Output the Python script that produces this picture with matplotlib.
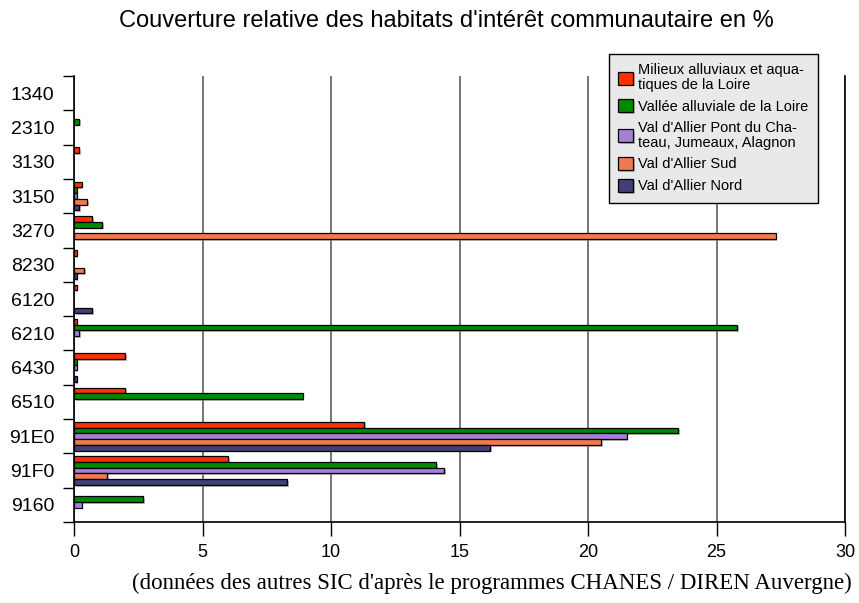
import matplotlib
matplotlib.use("Agg")
import matplotlib.pyplot as plt
import matplotlib.patheffects as pe
import numpy as np

habitats = ["1340", "2310", "3130", "3150", "3270", "8230", "6120",
            "6210", "6430", "6510", "91E0", "91F0", "9160"]

milieux_loire = [0, 0, 0.2, 0.3, 0.7, 0.1, 0.1, 0.1, 2.0, 2.0, 11.3, 6.0, 0]
vallee_loire = [0, 0.2, 0, 0.1, 1.1, 0, 0, 25.8, 0.1, 8.9, 23.5, 14.1, 2.7]
allier_pont = [0, 0, 0, 0.1, 0, 0, 0, 0.2, 0.1, 0, 21.5, 14.4, 0.3]
allier_sud = [0, 0, 0, 0.5, 27.3, 0.4, 0, 0, 0, 0, 20.5, 1.3, 0]
allier_nord = [0, 0, 0, 0.2, 0, 0.1, 0.7, 0, 0.1, 0, 16.2, 8.3, 0]

series = [
    ("Milieux alluviaux et aqua-\ntiques de la Loire", milieux_loire, "#ff3000"),
    ("Vallée alluviale de la Loire", vallee_loire, "#008a00"),
    ("Val d'Allier Pont du Cha-\nteau, Jumeaux, Alagnon", allier_pont, "#a87fd8"),
    ("Val d'Allier Sud", allier_sud, "#ef7a50"),
    ("Val d'Allier Nord", allier_nord, "#414177"),
]

plt.rcParams["font.family"] = ["Liberation Sans", "DejaVu Sans"]

fig = plt.figure(figsize=(8.59, 6.03), dpi=100)
ax = fig.add_axes([74 / 859, 1 - 522 / 603, (845 - 74) / 859, (522 - 76) / 603])

n_cat = len(habitats)
centers = np.arange(n_cat) + 0.5
group = 0.84
bar_h = group / len(series)

shadow = [pe.SimplePatchShadow(offset=(1.2, -1.2), shadow_rgbFace="#909090", alpha=0.6),
          pe.Normal()]

handles = []
for k, (label, values, color) in enumerate(series):
    values = np.asarray(values, dtype=float)
    pos = centers - group / 2 + bar_h * (k + 0.5)
    keep = values > 0
    bars = ax.barh(pos[keep], values[keep], height=bar_h, color=color,
                   edgecolor="black", linewidth=0.9, label=label, zorder=3)
    for b in bars:
        b.set_path_effects(shadow)
    handles.append(bars)

ax.set_xlim(0, 30)
ax.set_ylim(n_cat, 0)

# category boundaries carry the ticks, labels sit in the middle of each band
ax.set_yticks(np.arange(n_cat + 1))
ax.set_yticklabels([])
ax.set_yticks(centers, minor=True)
ax.set_yticklabels(habitats, minor=True, fontsize=14)
ax.tick_params(axis="y", which="major", length=8, width=1, color="black")
ax.tick_params(axis="y", which="minor", length=0, pad=14)

ax.set_xticks(np.arange(0, 31, 5))
ax.tick_params(axis="x", length=10, width=1, pad=6, labelsize=13)

ax.xaxis.grid(True, color="#6a6a6a", linewidth=1.3, zorder=0)
ax.set_axisbelow(True)

ax.spines["top"].set_visible(False)
for side in ("left", "bottom", "right"):
    ax.spines[side].set_linewidth(1.2)
    ax.spines[side].set_color("black")

leg = ax.legend(handles=handles, loc="upper left",
                bbox_to_anchor=(609 / 859, 1 - 54 / 603), bbox_transform=fig.transFigure,
                fontsize=10.5, frameon=True, fancybox=False, shadow=False,
                handlelength=1.0, handleheight=1.0, handletextpad=0.35,
                labelspacing=0.5, borderpad=0.65, borderaxespad=0)
for t in leg.get_texts():
    t.set_linespacing(1.05)
leg.get_frame().set_facecolor("#e9e9e9")
leg.get_frame().set_edgecolor("black")
leg.get_frame().set_linewidth(1.0)
leg.get_frame().set_alpha(1)
leg.set_zorder(5)

fig.text(0.52, 1 - 21 / 603, "Couverture relative des habitats d'intérêt communautaire en %",
         ha="center", va="center", fontsize=17)
fig.text(0.573, 1 - 583 / 603,
         "(données des autres SIC d'après le programmes CHANES / DIREN Auvergne)",
         ha="center", va="center", fontsize=16.5, family=["Liberation Serif", "DejaVu Serif"])

fig.savefig("out.png", dpi=100)
